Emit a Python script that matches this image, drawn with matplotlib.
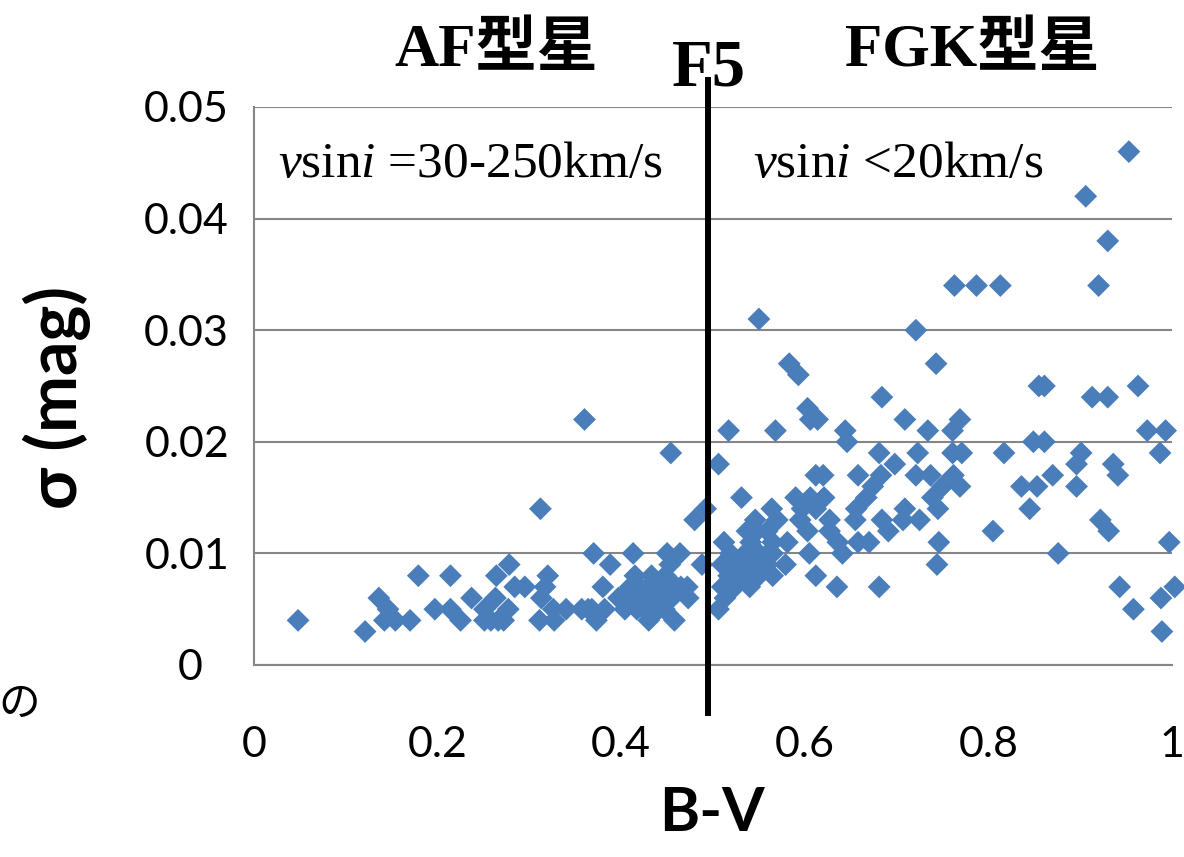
import matplotlib
matplotlib.use("Agg")
import matplotlib.pyplot as plt
from matplotlib.transforms import ScaledTranslation

# ---- data (B-V colour index vs. sigma in mag) ----
af_bv = [0.048, 0.121, 0.136, 0.146, 0.142, 0.154, 0.170, 0.179, 0.197, 0.214, 0.214, 0.225,
         0.237, 0.251, 0.251, 0.264, 0.263, 0.278, 0.284, 0.295, 0.277, 0.266, 0.258, 0.272,
         0.312, 0.320, 0.317, 0.313, 0.311, 0.327, 0.326, 0.340, 0.357, 0.360, 0.370, 0.388,
         0.380, 0.373, 0.368, 0.382, 0.364, 0.397, 0.413, 0.415, 0.400, 0.404, 0.415, 0.417,
         0.430, 0.450, 0.464, 0.453, 0.472, 0.473, 0.458, 0.480, 0.488, 0.492, 0.454, 0.441,
         0.420, 0.425, 0.430, 0.435, 0.440, 0.445, 0.450, 0.455, 0.460, 0.435, 0.447, 0.425,
         0.410, 0.465, 0.448, 0.433]
af_sigma = [0.004, 0.003, 0.006, 0.005, 0.004, 0.004, 0.004, 0.008, 0.005, 0.008, 0.005, 0.004,
            0.006, 0.005, 0.004, 0.008, 0.006, 0.009, 0.007, 0.007, 0.005, 0.004, 0.004, 0.004,
            0.014, 0.008, 0.007, 0.006, 0.004, 0.004, 0.005, 0.005, 0.005, 0.022, 0.010, 0.009,
            0.007, 0.004, 0.005, 0.005, 0.005, 0.006, 0.010, 0.008, 0.006, 0.005, 0.006, 0.005,
            0.004, 0.010, 0.010, 0.009, 0.007, 0.006, 0.004, 0.013, 0.009, 0.014, 0.019, 0.005,
            0.007, 0.006, 0.007, 0.006, 0.007, 0.006, 0.007, 0.006, 0.007, 0.005, 0.005, 0.005,
            0.007, 0.007, 0.008, 0.008]

fgk_bv = [0.531, 0.546, 0.564, 0.570, 0.559, 0.565, 0.581, 0.590, 0.606, 0.621, 0.612, 0.620,
          0.597, 0.612, 0.603, 0.595, 0.627, 0.636, 0.627, 0.641, 0.658, 0.656, 0.658, 0.605,
          0.612, 0.635, 0.512, 0.519, 0.541, 0.550, 0.565, 0.579, 0.510, 0.528, 0.543, 0.559,
          0.517, 0.535, 0.550, 0.565, 0.510, 0.524, 0.513, 0.506,
          0.550, 0.583, 0.593, 0.721, 0.517, 0.568, 0.506, 0.603, 0.614, 0.606, 0.684, 0.709,
          0.644, 0.646, 0.681, 0.698, 0.723, 0.683, 0.721,
          0.734, 0.761, 0.769, 0.855, 0.861, 0.913, 0.930, 0.963, 0.973, 0.993, 0.849, 0.861,
          0.761, 0.771, 0.817, 0.901, 0.987, 0.896, 0.936, 0.941, 0.737, 0.762, 0.870, 0.674,
          0.750, 0.769, 0.836, 0.853, 0.896, 0.667, 0.739, 0.709, 0.745, 0.845, 0.684, 0.725,
          0.707, 0.922, 0.655, 0.691, 0.805, 0.931, 0.670, 0.746, 0.997, 0.876, 0.744, 0.681,
          0.943, 1.003, 0.988, 0.958, 0.989,
          0.953, 0.906, 0.930, 0.920, 0.763, 0.787, 0.813, 0.743,
          0.515, 0.522, 0.530, 0.527, 0.535, 0.545, 0.540, 0.555, 0.560, 0.537, 0.548]
fgk_sigma = [0.015, 0.013, 0.014, 0.013, 0.012, 0.011, 0.011, 0.015, 0.015, 0.015, 0.017, 0.017,
             0.014, 0.014, 0.012, 0.013, 0.013, 0.011, 0.012, 0.010, 0.017, 0.014, 0.011, 0.010,
             0.008, 0.007, 0.011, 0.010, 0.011, 0.010, 0.010, 0.009, 0.009, 0.009, 0.009, 0.009,
             0.008, 0.008, 0.008, 0.008, 0.007, 0.007, 0.006, 0.005,
             0.031, 0.027, 0.026, 0.030, 0.021, 0.021, 0.018, 0.023, 0.022, 0.022, 0.024, 0.022,
             0.021, 0.020, 0.019, 0.018, 0.019, 0.017, 0.017,
             0.021, 0.021, 0.022, 0.025, 0.025, 0.024, 0.024, 0.025, 0.021, 0.021, 0.020, 0.020,
             0.019, 0.019, 0.019, 0.019, 0.019, 0.018, 0.018, 0.017, 0.017, 0.017, 0.017, 0.016,
             0.016, 0.016, 0.016, 0.016, 0.016, 0.015, 0.015, 0.014, 0.014, 0.014, 0.013, 0.013,
             0.013, 0.013, 0.013, 0.012, 0.012, 0.012, 0.011, 0.011, 0.011, 0.010, 0.009, 0.007,
             0.007, 0.007, 0.006, 0.005, 0.003,
             0.046, 0.042, 0.038, 0.034, 0.034, 0.034, 0.034, 0.027,
             0.007, 0.008, 0.008, 0.009, 0.010, 0.008, 0.007, 0.009, 0.010, 0.012, 0.012]

x_ticks = [0, 0.2, 0.4, 0.6, 0.8, 1.0]
x_ticklabels = ["0", "0.2", "0.4", "0.6", "0.8", "1"]
y_ticks = [0, 0.01, 0.02, 0.03, 0.04, 0.05]
y_ticklabels = ["0", "0.01", "0.02", "0.03", "0.04", "0.05"]
f5_bv = 0.495

plt.rcParams['mathtext.fontset'] = 'custom'
plt.rcParams['mathtext.rm'] = 'Liberation Serif'
plt.rcParams['mathtext.it'] = 'Liberation Serif:italic'

fig = plt.figure(figsize=(11.84, 8.57), dpi=100)
ax = fig.add_axes([254/1184, (857-665)/857, (1172-254)/1184, (665-107)/857])

bv = af_bv + fgk_bv
sigma = af_sigma + fgk_sigma
ax.scatter(bv, sigma, marker='D', s=135, color='#4A7EBB', edgecolors='none',
           zorder=3, clip_on=False)

ax.set_xlim(0, 1.0)
ax.set_ylim(0, 0.05)
ax.set_xticks(x_ticks)
ax.set_xticklabels(x_ticklabels)
ax.set_yticks(y_ticks)
ax.set_yticklabels(y_ticklabels)

gray = '#868686'
ax.yaxis.grid(True, color=gray, linewidth=1.5, zorder=0)
ax.set_axisbelow(True)
for s in ['top', 'right']:
    ax.spines[s].set_visible(False)
for s in ['left', 'bottom']:
    ax.spines[s].set_color(gray)
    ax.spines[s].set_linewidth(1.5)
ax.tick_params(axis='both', length=0, labelsize=31)
ax.tick_params(axis='x', pad=44)
ax.tick_params(axis='y', pad=18)
for lbl in ax.get_xticklabels() + ax.get_yticklabels():
    lbl.set_fontfamily('Lato')
# the "0" label of the y axis sits a little further left in the original
zero_lbl = ax.yaxis.get_major_ticks()[0].label1
zero_lbl.set_transform(zero_lbl.get_transform() + ScaledTranslation(-0.26, 0, fig.dpi_scale_trans))

ax.set_xlabel('B-V', fontsize=44, fontweight='bold', fontfamily='Lato')
ax.xaxis.set_label_coords(0.499, -0.215)
ax.set_ylabel('σ (mag)', fontsize=49, fontweight='bold', fontfamily='Lato')
ax.yaxis.set_label_coords(-0.178, 0.48)

# F5 boundary line
ax.plot([f5_bv, f5_bv], [0.0524, -0.0043], color='black', linewidth=4.3,
        clip_on=False, zorder=4)

serif_cjk = ['Liberation Serif', 'Noto Sans CJK JP']
ax.text(0.264, 1.10, 'AF型星', transform=ax.transAxes, ha='center', va='center',
        fontsize=44, fontweight='bold', family=serif_cjk)
ax.text(0.782, 1.10, 'FGK型星', transform=ax.transAxes, ha='center', va='center',
        fontsize=44, fontweight='bold', family=serif_cjk)
ax.text(f5_bv, 1.068, 'F5', transform=ax.get_xaxis_transform(), ha='center', va='center',
        fontsize=48, fontweight='bold', family=serif_cjk)

ax.text(0.026, 0.0448, r'$v$sin$i$ =30-250km/s', ha='left', va='center',
        fontsize=37, family='Liberation Serif')
ax.text(0.544, 0.0448, r'$v$sin$i$ <20km/s', ha='left', va='center',
        fontsize=37, family='Liberation Serif')

fig.text(19/1184, 1 - 704/857, 'の', ha='center', va='center', fontsize=30,
         family=['Noto Sans CJK JP'])

fig.savefig('out.png', dpi=100)
